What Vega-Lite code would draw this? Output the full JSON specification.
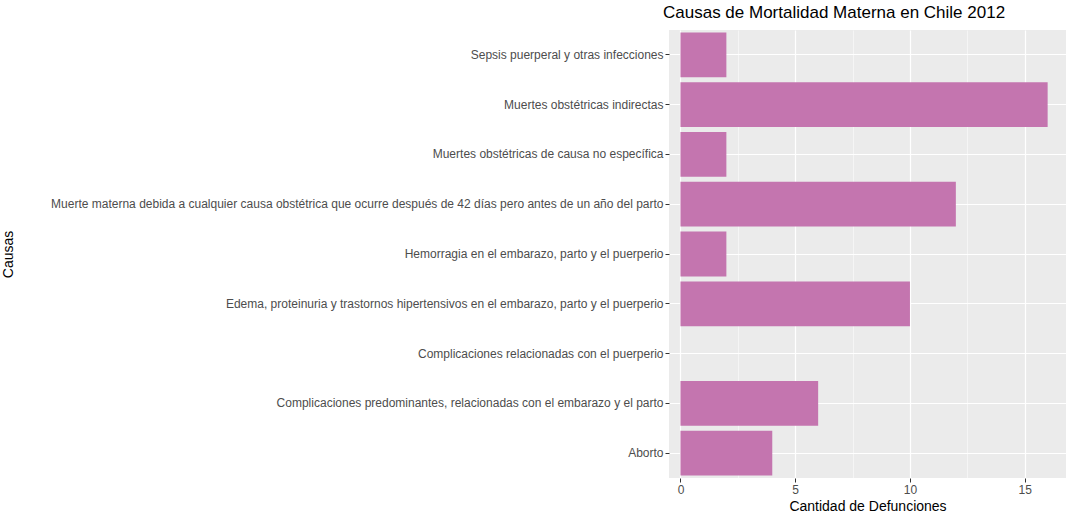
{
  "$schema": "https://vega.github.io/schema/vega-lite/v6.json",
  "width": 397,
  "height": 448,
  "autosize": {"type": "none"},
  "padding": {"left": 669, "top": 30, "right": 9, "bottom": 44},
  "background": "white",
  "config": {
    "font": "Liberation Sans",
    "view": {"fill": "#EBEBEB", "stroke": null},
    "axis": {"domain": false, "labelColor": "#4D4D4D", "labelFontSize": 12, "titleFontSize": 14, "titleFontWeight": "normal", "titleColor": "black", "gridColor": "white", "tickColor": "#333333", "tickSize": 4}
  },
  "title": {"text": "Causas de Mortalidad Materna en Chile 2012", "anchor": "start", "frame": "group", "fontSize": 17, "fontWeight": "normal", "offset": 8, "dx": -6},
  "data": {
    "values": [
      {"causa": "Sepsis puerperal y otras infecciones", "n": 2},
      {"causa": "Muertes obstétricas indirectas", "n": 16},
      {"causa": "Muertes obstétricas de causa no específica", "n": 2},
      {"causa": "Muerte materna debida a cualquier causa obstétrica que ocurre después de 42 días pero antes de un año del parto", "n": 12},
      {"causa": "Hemorragia en el embarazo, parto y el puerperio", "n": 2},
      {"causa": "Edema, proteinuria y trastornos hipertensivos en el embarazo, parto y el puerperio", "n": 10},
      {"causa": "Complicaciones relacionadas con el puerperio", "n": 0},
      {"causa": "Complicaciones predominantes, relacionadas con el embarazo y el parto", "n": 6},
      {"causa": "Aborto", "n": 4}
    ]
  },
  "mark": {"type": "bar", "color": "#C475AF"},
  "encoding": {
    "y": {
      "field": "causa", "type": "nominal", "sort": null, "title": "Causas",
      "scale": {"paddingInner": 0.1, "paddingOuter": 0.05},
      "axis": {"grid": true, "bandPosition": 0.5, "gridWidth": 1.2, "labelLimit": 700, "labelPadding": 2, "titleX": -654, "titleY": 224}
    },
    "x": {
      "field": "n", "type": "quantitative", "title": "Cantidad de Defunciones",
      "scale": {"domain": [-0.5, 16.8], "nice": false, "zero": false},
      "axis": {
        "values": [0, 2.5, 5, 7.5, 10, 12.5, 15],
        "labelExpr": "datum.value % 5 === 0 ? datum.label : ''",
        "gridWidth": {"condition": {"test": "datum.value % 5 === 0", "value": 1.2}, "value": 0.5},
        "tickOpacity": {"condition": {"test": "datum.value % 5 === 0", "value": 1}, "value": 0},
        "titlePadding": 4
      }
    }
  }
}
